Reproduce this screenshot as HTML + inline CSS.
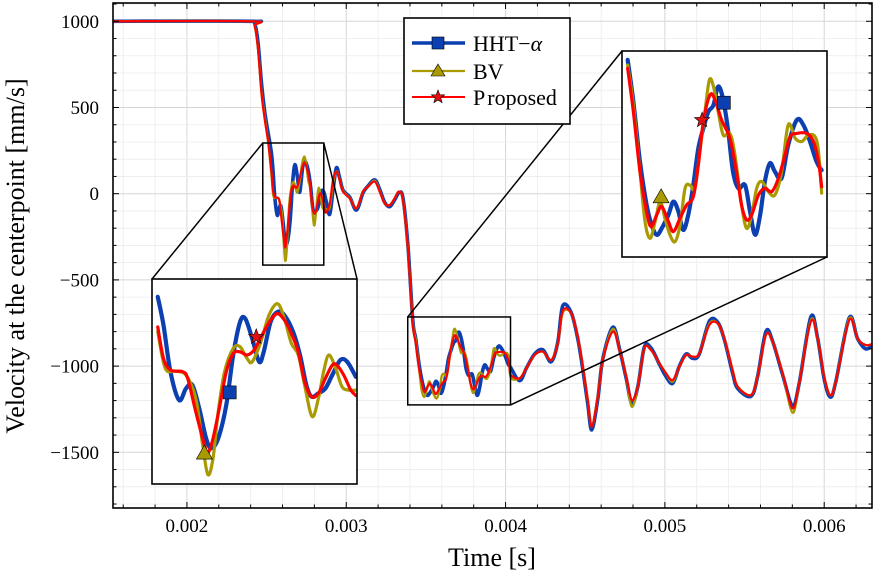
<!DOCTYPE html>
<html><head><meta charset="utf-8"><style>
html,body{margin:0;padding:0;background:#fff;width:875px;height:573px;overflow:hidden}
svg{display:block}
text{font-family:"Liberation Serif","DejaVu Serif",serif;fill:#000}
</style></head><body>
<svg id="chart" width="875" height="573" viewBox="0 0 875 573" xmlns="http://www.w3.org/2000/svg">
<defs>
<clipPath id="clipMain"><rect x="113" y="3" width="759" height="505"/></clipPath>
<clipPath id="clipIn1"><rect x="152" y="279" width="205" height="205"/></clipPath>
<clipPath id="clipIn2"><rect x="622" y="51" width="205" height="206"/></clipPath>
</defs>
<rect x="0" y="0" width="875" height="573" fill="#fff"/>
<g id="grid"></g>
<g id="series-main" clip-path="url(#clipMain)"></g>
<g id="zoomboxes"></g>
<g id="inset1"></g>
<g id="inset2"></g>
<g id="axes"></g>
<g id="legend">
<rect x="404" y="18" width="166" height="106" fill="#fff" stroke="#000" stroke-width="1.6"/>
<g>
<line x1="412" y1="43" x2="465" y2="43" stroke="#0c3fb0" stroke-width="3.5"/>
<rect x="432" y="37" width="12" height="12" fill="#0c3fb0" stroke="#000" stroke-width="0.6"/>
<text x="473" y="51" font-size="22">HHT−<tspan font-style="italic">α</tspan></text></g>
<g>
<line x1="412" y1="71" x2="465" y2="71" stroke="#a89a00" stroke-width="2.2"/>
<polygon points="438,64 445,76 431,76" fill="#a89a00" stroke="#000" stroke-width="0.6"/>
<text x="473" y="79" font-size="22">BV</text></g>
<g>
<line x1="412" y1="97" x2="465" y2="97" stroke="#ff0000" stroke-width="2"/>
<polygon id="legstar" fill="#e01010" stroke="#000" stroke-width="0.6"/>
<text x="473" y="105" font-size="22">P<tspan dx="2">roposed</tspan></text></g>
</g>
<text x="492" y="566" font-size="26" text-anchor="middle">Time [s]</text>
<text transform="translate(24,256) rotate(-90)" font-size="26" text-anchor="middle">Velocity at the centerpoint [mm/s]</text>
</svg>
<script>
// ---- data (time in ms, velocity in mm/s) ----
const propT=[1.536,2.395,2.426,2.447,2.468,2.489,2.510,
2.530,2.540,2.552,2.573,2.582,2.596,2.611,2.617,2.626,2.638,2.649,2.661,2.673,2.685,2.697,2.711,2.726,2.738,2.750,2.762,2.774,2.785,2.797,2.809,2.821,2.833,2.841,2.853,2.865,2.874,
2.896,2.917,2.938,2.959,2.980,3.022,3.064,3.105,3.137,3.179,3.210,3.241,3.273,3.304,3.331,3.356,3.387,
3.418,3.436,3.457,3.478,3.492,3.510,3.526,3.547,3.563,3.584,3.605,3.626,3.642,3.658,3.679,3.695,3.716,3.742,3.763,3.779,3.795,3.811,3.833,3.853,3.875,3.896,3.917,3.933,3.954,3.986,4.007,4.023,4.033,
4.088,4.130,4.182,4.234,4.286,4.328,4.359,4.412,4.453,4.485,4.516,4.541,4.579,4.610,4.673,4.715,4.757,4.792,4.830,4.871,4.913,4.966,5.007,5.049,5.091,5.133,5.174,5.216,5.279,5.331,5.373,5.425,5.457,5.540,5.582,5.634,5.676,5.739,5.801,5.843,5.916,5.958,6.000,6.038,6.073,6.157,6.209,6.261,6.314];
const propV=[1000,1000,969,833,582,427,300,
133,22,-19,-25,-49,-166,-283,-312,-260,-142,-25,39,45,34,51,104,157,180,157,110,45,-60,-113,-101,-49,-2,-2,-37,-89,-109,
-60,79,128,79,12,-27,-85,12,41,70,12,-56,-66,-27,12,-37,-320,
-758,-865,-1014,-1113,-1150,-1121,-1100,-1137,-1162,-1129,-1096,-1076,-997,-890,-824,-836,-886,-931,-1014,-1096,-1133,-1121,-1071,-1055,-1063,-1030,-972,-927,-919,-919,-939,-989,-1051,
-1071,-1013,-936,-916,-965,-868,-679,-694,-829,-1003,-1197,-1351,-1177,-965,-800,-907,-1061,-1197,-1119,-897,-907,-984,-1042,-1081,-1003,-936,-945,-926,-762,-752,-839,-1023,-1119,-1168,-1061,-820,-858,-1042,-1245,-1100,-742,-839,-1061,-1168,-1090,-733,-839,-878,-868];

const bvT=[1.536,2.395,2.426,2.447,2.468,2.489,2.510,
2.530,2.543,2.561,2.579,2.596,2.608,2.617,2.626,2.635,2.646,2.661,2.673,2.685,2.694,2.709,2.723,2.738,2.750,2.762,2.774,2.785,2.798,2.809,2.818,2.827,2.839,2.850,2.862,2.874,
2.896,2.917,2.938,2.959,2.980,3.022,3.064,3.105,3.137,3.179,3.210,3.241,3.273,3.304,3.331,3.356,3.387,
3.418,3.436,3.457,3.473,3.489,3.505,3.521,3.536,3.552,3.568,3.584,3.600,3.616,3.631,3.647,3.663,3.677,3.690,3.705,3.721,3.742,3.758,3.779,3.795,3.811,3.827,3.843,3.864,3.885,3.906,3.927,3.949,3.970,3.991,4.012,4.023,4.033,
4.088,4.130,4.182,4.234,4.286,4.328,4.359,4.412,4.453,4.485,4.516,4.541,4.579,4.610,4.673,4.715,4.757,4.792,4.830,4.871,4.913,4.966,5.007,5.049,5.091,5.133,5.174,5.216,5.279,5.331,5.373,5.425,5.457,5.540,5.582,5.634,5.676,5.739,5.801,5.843,5.916,5.958,6.000,6.038,6.073,6.157,6.209,6.261,6.314];
const bvV=[1000,1000,969,833,590,440,300,
116,-13,-23,-37,-119,-283,-388,-330,-166,-25,57,63,22,10,80,174,215,162,75,34,-72,-183,-119,-25,34,-13,-78,-90,-90,
-80,60,130,80,15,-25,-85,12,41,75,15,-56,-66,-27,12,-37,-320,
-750,-849,-1014,-1137,-1179,-1137,-1088,-1129,-1170,-1187,-1146,-1055,-1047,-1055,-964,-865,-787,-803,-865,-923,-919,-972,-1096,-1154,-1121,-1055,-1038,-1063,-1071,-1014,-898,-931,-939,-923,-927,-964,-1067,
-1071,-1013,-936,-916,-965,-868,-690,-694,-829,-1003,-1197,-1350,-1177,-965,-785,-907,-1061,-1235,-1119,-897,-907,-984,-1042,-1090,-1003,-936,-945,-926,-755,-752,-839,-1023,-1119,-1168,-1061,-820,-858,-1042,-1270,-1100,-735,-839,-1061,-1168,-1090,-725,-839,-878,-868];

const hhtT=[1.536,2.395,2.426,2.447,2.468,2.489,2.510,
2.530,2.540,2.552,2.567,2.579,2.590,2.602,2.614,2.623,2.635,2.649,2.661,2.673,2.682,2.694,2.706,2.714,2.726,2.738,2.750,2.765,2.777,2.788,2.797,2.809,2.821,2.833,2.847,2.859,2.874,
2.896,2.917,2.938,2.959,2.980,3.022,3.064,3.105,3.137,3.179,3.210,3.241,3.273,3.304,3.331,3.356,3.387,
3.418,3.436,3.457,3.478,3.494,3.510,3.526,3.547,3.563,3.579,3.594,3.610,3.626,3.642,3.658,3.674,3.690,3.705,3.721,3.737,3.752,3.769,3.790,3.806,3.822,3.838,3.853,3.869,3.885,3.906,3.927,3.954,3.975,3.996,4.017,4.033,
4.088,4.130,4.182,4.234,4.286,4.328,4.359,4.412,4.453,4.485,4.516,4.541,4.579,4.610,4.673,4.715,4.757,4.792,4.830,4.871,4.913,4.966,5.007,5.049,5.091,5.133,5.174,5.216,5.279,5.331,5.373,5.425,5.457,5.540,5.582,5.634,5.676,5.739,5.801,5.843,5.916,5.958,6.000,6.038,6.073,6.157,6.209,6.261,6.314];
const hhtV=[1000,1000,985,870,640,470,350,
239,139,-25,-125,-84,-72,-154,-260,-295,-260,-142,34,151,162,92,10,45,151,186,174,116,34,-72,-113,-101,-84,-37,16,10,-43,
-120,20,150,90,20,-20,-95,5,45,80,25,-50,-75,-35,5,-25,-300,
-737,-840,-989,-1096,-1146,-1170,-1154,-1121,-1088,-1113,-1158,-1121,-1047,-956,-906,-865,-849,-803,-836,-915,-1014,-1055,-1047,-1113,-1170,-1121,-1038,-993,-1014,-1030,-948,-886,-898,-939,-989,-1010,
-1085,-1013,-930,-905,-975,-860,-650,-690,-840,-1020,-1220,-1370,-1190,-960,-775,-900,-1070,-1215,-1120,-890,-895,-990,-1060,-1100,-1000,-930,-955,-930,-740,-745,-845,-1040,-1130,-1175,-1060,-800,-855,-1050,-1230,-1100,-715,-835,-1075,-1180,-1090,-720,-840,-900,-870];

const xTicks=[0.002,0.003,0.004,0.005,0.006];
const xTickLabels=["0.002","0.003","0.004","0.005","0.006"];
const yTicks=[1000,500,0,-500,-1000,-1500];
const yTickLabels=["1000","500","0","−500","−1000","−1500"];
// zoom regions in data coords [t0,t1,v0,v1]
const zoom1=[2.476,2.859,-414,294];
const zoom2=[3.386,4.031,-1225,-715];
const inset1Range=[2.52,2.876,-421,302];
const inset2Range=[3.40,4.05,-1225,-715];
// marker data points [t, v]
const in1Markers={hht:[2.655,-98],bv:[2.611,-312],prop:[2.701,98]};
const in2Markers={hht:[3.723,-843],bv:[3.524,-1076],prop:[3.654,-886]};

// ---- axes ----
const PL=113,PR=872,PT=3,PB=508;
const T0=1.536,T1=6.3,V0=-1823,V1=1106;
function xs(tms){return PL+(tms-T0)/(T1-T0)*(PR-PL);}
function ys(v){return PB-(v-V0)/(V1-V0)*(PB-PT);}
const NS='http://www.w3.org/2000/svg';
function mk(tag,attrs,parent){const e=document.createElementNS(NS,tag);for(const k in attrs)e.setAttribute(k,attrs[k]);parent.appendChild(e);return e;}
function pathD(T,V,fx,fy){
  const P=T.map((t,i)=>[fx(t),fy(V[i])]);
  let d='M'+P[0][0].toFixed(2)+','+P[0][1].toFixed(2);
  for(let i=0;i<P.length-1;i++){
    const p0=P[i-1]||P[i],p1=P[i],p2=P[i+1],p3=P[i+2]||P[i+1];
    const c1=[p1[0]+(p2[0]-p0[0])/6,p1[1]+(p2[1]-p0[1])/6];
    const c2=[p2[0]-(p3[0]-p1[0])/6,p2[1]-(p3[1]-p1[1])/6];
    d+='C'+c1[0].toFixed(2)+','+c1[1].toFixed(2)+' '+c2[0].toFixed(2)+','+c2[1].toFixed(2)+' '+p2[0].toFixed(2)+','+p2[1].toFixed(2);
  }
  return d;
}
function starPts(cx,cy,R){const r=R*0.42;let s=[];for(let i=0;i<10;i++){const a=-Math.PI/2+i*Math.PI/5;const rr=i%2?r:R;s.push((cx+rr*Math.cos(a)).toFixed(2)+','+(cy+rr*Math.sin(a)).toFixed(2));}return s.join(' ');}
document.getElementById('legstar').setAttribute('points',starPts(438,97,7));

// grid
const grid=document.getElementById('grid');
for(let t=1.6;t<=6.3001;t+=0.2){const x=xs(t);const major=Math.abs(t-Math.round(t))<1e-6;
  const l=mk('line',{x1:x,y1:PT,x2:x,y2:PB,stroke:major?'#d6d6d6':'#ececec','stroke-width':major?1:0.8},grid);
  
  }
for(let v=-1800;v<=1100;v+=100){const y=ys(v);const major=v%500===0;
  const l=mk('line',{x1:PL,y1:y,x2:PR,y2:y,stroke:major?'#d6d6d6':'#ececec','stroke-width':major?1:0.8},grid);
  
  }

const series=[
 {name:'hht',T:hhtT,V:hhtV,color:'#0c3fb0',w:3.6,wi:4.2},
 {name:'bv',T:bvT,V:bvV,color:'#a89a00',w:2.4,wi:3.2},
 {name:'proposed',T:propT,V:propV,color:'#ff0000',w:2.2,wi:3.2}];
const gm=document.getElementById('series-main');
series.forEach(s=>{
  const p=mk('path',{d:pathD(s.T,s.V,xs,ys),fill:'none',stroke:s.color,'stroke-width':s.w,'stroke-linejoin':'round'},gm);
  
  
});

// zoom boxes and connectors
const zb=document.getElementById('zoomboxes');
function zoomRect(z,name){const x0=xs(z[0]),x1=xs(z[1]),y0=ys(z[3]),y1=ys(z[2]);
  const r=mk('rect',{x:x0,y:y0,width:x1-x0,height:y1-y0,fill:'none',stroke:'#000','stroke-width':1.5},zb);
  
  
  return [x0,y0,x1,y1];}
const r1=zoomRect(zoom1,'zoom-box-1');
const r2=zoomRect(zoom2,'zoom-box-2');
const B1=[152,279,357,484],B2=[622,51,827,257];
[[r1[0],r1[1],B1[0],B1[1]],[r1[2],r1[1],B1[2],B1[1]],[r2[0],r2[1],B2[0],B2[1]],[r2[2],r2[3],B2[2],B2[3]]].forEach(c=>{
  const l=mk('line',{x1:c[0],y1:c[1],x2:c[2],y2:c[3],stroke:'#000','stroke-width':1.5},zb);
  
  
});

function drawInset(gid,B,R,clip,M){
  const g=document.getElementById(gid);
  
  
  const fx=t=>B[0]+(t-R[0])/(R[1]-R[0])*(B[2]-B[0]);
  const fy=v=>B[3]-(v-R[2])/(R[3]-R[2])*(B[3]-B[1]);
  mk('rect',{x:B[0],y:B[1],width:B[2]-B[0],height:B[3]-B[1],fill:'#fff'},g);
  const gc=mk('g',{'clip-path':'url(#'+clip+')'},g);
  series.forEach(s=>{
    const T=[],V=[];
    s.T.forEach((t,i)=>{if(t>=R[0]&&t<=R[1]){T.push(t);V.push(s.V[i]);}});
    const p=mk('path',{d:pathD(T,V,fx,fy),fill:'none',stroke:s.color,'stroke-width':s.wi,'stroke-linejoin':'round','stroke-linecap':'round'},gc);
    
    
  });
  let x=fx(M.hht[0]),y=fy(M.hht[1]);
  const sq=mk('rect',{x:x-6.5,y:y-6.5,width:13,height:13,fill:'#0c3fb0',stroke:'#000','stroke-width':0.6},g);
  
  
  x=fx(M.bv[0]);y=fy(M.bv[1]);
  const tr=mk('polygon',{points:`${x},${y-8} ${x+8},${y+6} ${x-8},${y+6}`,fill:'#a89a00',stroke:'#000','stroke-width':0.6},g);
  
  
  x=fx(M.prop[0]);y=fy(M.prop[1]);
  const st=mk('polygon',{points:starPts(x,y,8),fill:'#e01010',stroke:'#000','stroke-width':0.6},g);
  
  
  mk('rect',{x:B[0],y:B[1],width:B[2]-B[0],height:B[3]-B[1],fill:'none',stroke:'#000','stroke-width':1.6},g);
}
drawInset('inset1',B1,inset1Range,'clipIn1',in1Markers);
drawInset('inset2',B2,inset2Range,'clipIn2',in2Markers);

// axes frame, ticks, labels
const ax=document.getElementById('axes');
mk('rect',{x:PL,y:PT,width:PR-PL,height:PB-PT,fill:'none',stroke:'#000','stroke-width':1.6},ax);
for(let t=1.6;t<=6.3001;t+=0.2){const x=xs(t);const major=Math.abs(t-Math.round(t))<1e-6;const L=major?6:3.5;
  mk('line',{x1:x,y1:PB,x2:x,y2:PB-L,stroke:'#000','stroke-width':1},ax);
  mk('line',{x1:x,y1:PT,x2:x,y2:PT+L,stroke:'#000','stroke-width':1},ax);}
for(let v=-1800;v<=1100;v+=100){const y=ys(v);const major=v%500===0;const L=major?6:3.5;
  mk('line',{x1:PL,y1:y,x2:PL+L,y2:y,stroke:'#000','stroke-width':1},ax);
  mk('line',{x1:PR,y1:y,x2:PR-L,y2:y,stroke:'#000','stroke-width':1},ax);}
xTicks.forEach((t,i)=>{
  const tx=mk('text',{x:xs(t*1000),y:532,'font-size':19,'text-anchor':'middle'},ax);
  tx.textContent=xTickLabels[i];
  
  
});
yTicks.forEach((v,i)=>{
  const tx=mk('text',{x:99,y:ys(v)+6.5,'font-size':19,'text-anchor':'end'},ax);
  tx.textContent=yTickLabels[i];
  
  
});
</script>
</body></html>
